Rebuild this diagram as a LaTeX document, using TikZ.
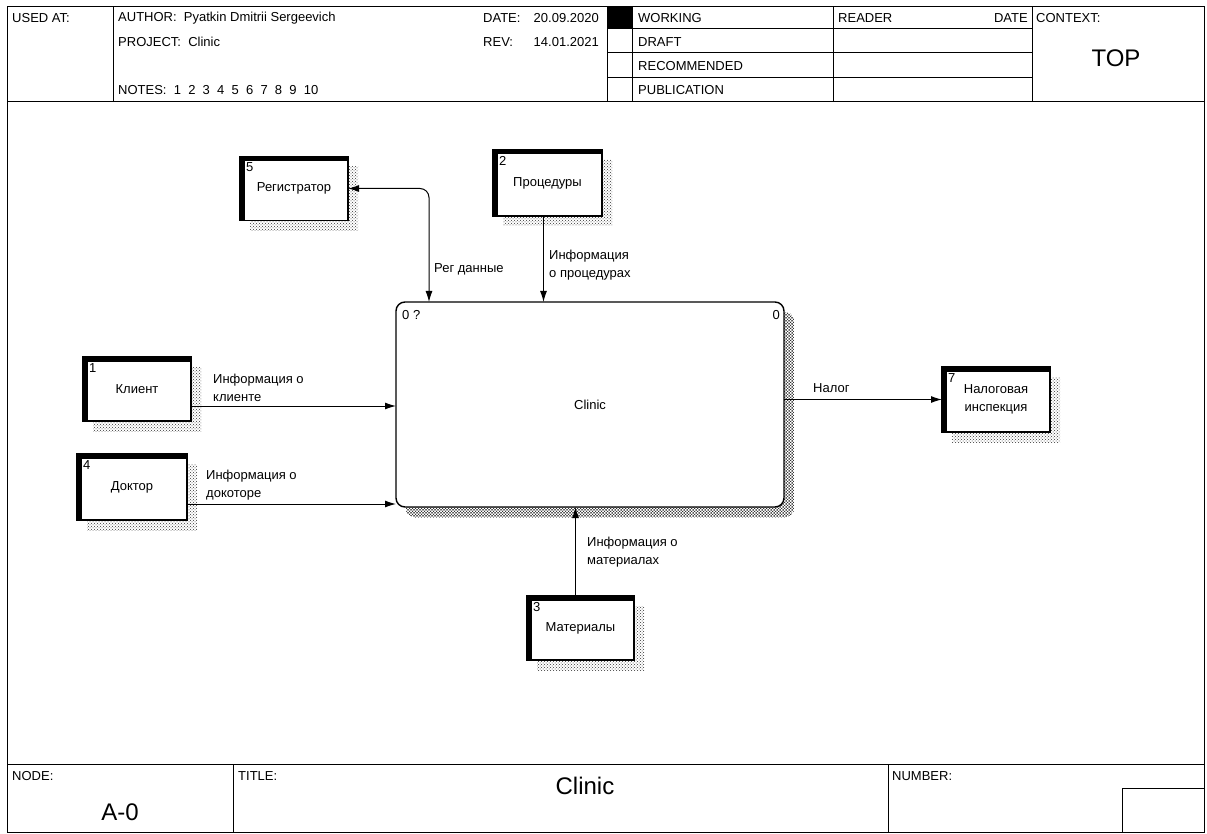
\documentclass[tikz,border=0pt]{standalone}
\usepackage{fontspec}
\setmainfont{Liberation Sans}
\usetikzlibrary{arrows.meta, patterns, backgrounds}
\definecolor{hatchgray}{rgb}{0.2, 0.2, 0.2}

\newcommand{\boxshadow}[1]{%
  \fill[shadow hatch] ([shift={(10pt,-10pt)}]#1.north west) rectangle ([shift={(10pt,-10pt)}]#1.south east);}

\begin{document}
\begin{tikzpicture}[x=1pt, y=-1pt, font=\fontsize{13}{18}\selectfont]
% Define styles
\tikzset{
  frame line/.style={line width=1pt},
  hdr/.style={anchor=west, inner sep=0pt},
  big text/.style={inner sep=0pt, font=\fontsize{24}{26}\selectfont},
  shadow hatch/.style={pattern=crosshatch dots, pattern color=hatchgray},
  entity/.style={draw, fill=white, line width=1.2pt, inner sep=0pt, outer sep=0pt,
    align=center, minimum width=108pt, minimum height=64pt,
    path picture={\draw[line width=9pt] (path picture bounding box.south west)
      |- (path picture bounding box.north east);}},
  activity/.style={draw, fill=white, line width=1.4pt, rounded corners=9pt,
    inner sep=0pt, outer sep=0pt, minimum width=388pt, minimum height=205pt},
  flow/.style={line width=1pt, -{Latex[length=11pt, width=7pt]}},
  flow label/.style={anchor=west, inner sep=0pt, align=left}
}
\useasboundingbox (0,0) rectangle (1207,834);

% Frame
\draw[frame line] (7,7) rectangle (1204,832);

% Header
\draw[frame line] (7,102) -- (1204,102);
\foreach \x in {113, 607, 632, 833, 1032}
  \draw[frame line] (\x,7) -- (\x,102);
\foreach \y in {29, 53, 78}
  \draw[frame line] (607,\y) -- (1032,\y);
\fill (607,7) rectangle (632,29);

\node[hdr] (usedat) at (12,18) {USED AT:};
\node[hdr] (author) at (118,18) {AUTHOR:~~Pyatkin Dmitrii Sergeevich};
\node[hdr] (project) at (118,42) {PROJECT:~~Clinic};
\node[hdr] (notes) at (118,90) {NOTES:~~1~~2~~3~~4~~5~~6~~7~~8~~9~~10};
\node[hdr] (datehdr) at (483,18) {DATE:};
\node[anchor=east, inner sep=0pt] (dateval) at (599,18) {20.09.2020};
\node[hdr] (revhdr) at (483,42) {REV:};
\node[anchor=east, inner sep=0pt] (revval) at (599,42) {14.01.2021};
\node[hdr] (working) at (638,18) {WORKING};
\node[hdr] (draft) at (638,42) {DRAFT};
\node[hdr] (recommended) at (638,66) {RECOMMENDED};
\node[hdr] (publication) at (638,90) {PUBLICATION};
\node[hdr] (reader) at (838,18) {READER};
\node[anchor=east, inner sep=0pt] (readerdate) at (1028,18) {DATE};
\node[hdr] (context) at (1036,18) {CONTEXT:};
\node[big text] (top) at (1116,58) {TOP};

% Footer
\draw[frame line] (7,764) -- (1204,764);
\draw[frame line] (233,764) -- (233,832);
\draw[frame line] (888,764) -- (888,832);
\draw[frame line] (1122,832) |- (1204,788);
\node[hdr] (nodehdr) at (12,776) {NODE:};
\node[big text] (nodeval) at (120,812) {A-0};
\node[hdr] (titlehdr) at (238,776) {TITLE:};
\node[big text] (titleval) at (585,786) {Clinic};
\node[hdr] (numberhdr) at (892,776) {NUMBER:};

% Activity box
\node[activity] (clinic) at (590,404.5) {Clinic};
\node[anchor=north west, inner sep=0pt] (clinicnum) at (402,310) {0 ?};
\node[anchor=north east, inner sep=0pt] (clinicref) at (780,310) {0};

% External entities
\node[entity] (reg) at (294,188.5) {Регистратор};
\node[entity, minimum width=109pt, minimum height=66pt] (proc) at (547.5,183) {Процедуры};
\node[entity] (klient) at (137,389) {Клиент};
\node[entity, minimum width=110pt, minimum height=66pt] (doktor) at (132,487) {Доктор};
\node[entity, minimum width=107pt] (mater) at (580.5,628) {Материалы};
\node[entity, minimum height=65pt] (nalog) at (996,399.5) {Налоговая\\инспекция};

\foreach \b/\n in {reg/5, proc/2, klient/1, doktor/4, mater/3, nalog/7}
  \node[anchor=north west, inner sep=0pt] (\b num) at ([shift={(6pt,-6pt)}]\b.north west) {\n};

% Shadows
\begin{scope}[on background layer]
  \foreach \b in {reg, proc, klient, doktor, mater, nalog}
    \boxshadow{\b}
  \fill[shadow hatch, rounded corners=9pt] ([shift={(10pt,-10pt)}]clinic.north west)
    rectangle ([shift={(10pt,-10pt)}]clinic.south east);
\end{scope}

% Arrows
\draw[flow, {Latex[length=11pt, width=7pt]}-{Latex[length=11pt, width=7pt]}, rounded corners=9pt]
  (reg.east) -| ([xshift=33pt]clinic.north west);
\draw[flow] ([xshift=-4pt]proc.south) -- ([xshift=-4pt]proc.south |- clinic.north);
\draw[flow] ([yshift=-17pt]klient.east) -- ([yshift=-17pt]klient.east -| clinic.west);
\draw[flow] ([yshift=-17pt]doktor.east) -- ([yshift=-17pt]doktor.east -| clinic.west);
\draw[flow] ([xshift=-5pt]mater.north) -- ([xshift=-5pt]mater.north |- clinic.south);
\draw[flow] (clinic.east |- nalog.west) -- (nalog.west);

% Arrow labels
\node[flow label] (lreg) at (434,269) {Рег данные};
\node[flow label] (lproc) at (549,265) {Информация\\о процедурах};
\node[flow label] (lklient) at (213,388) {Информация о\\клиенте};
\node[flow label] (ldoktor) at (206,485) {Информация о\\докоторе};
\node[flow label] (lmater) at (587,552) {Информация о\\материалах};
\node[flow label] (lnalog) at (813,388) {Налог};
\end{tikzpicture}
\end{document}
